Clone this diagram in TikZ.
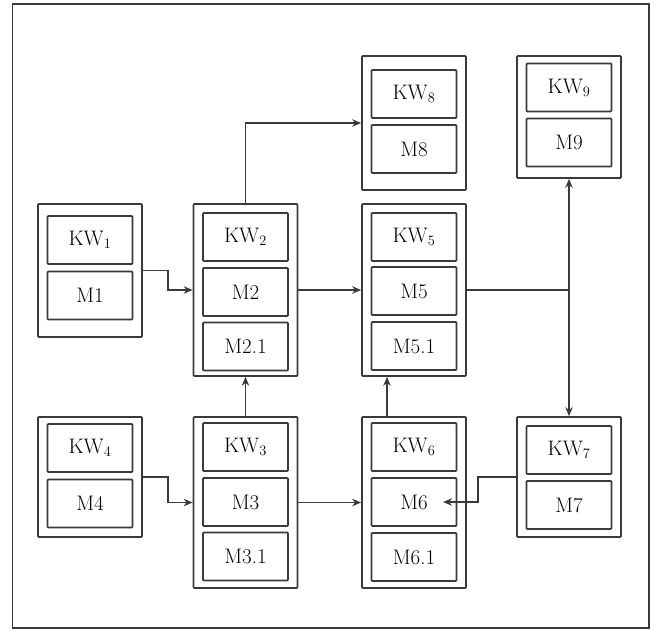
\documentclass[tikz,border=0pt]{standalone}
\usetikzlibrary{arrows.meta}
\definecolor{ink}{HTML}{3A3A3A}
\begin{document}
\begin{tikzpicture}[x=1pt,y=-1pt,
  frame/.style={draw=ink,line width=1.4pt},
  modbox/.style={draw=ink,line width=1.7pt,rounded corners=0.8pt,minimum width=104pt,inner sep=0pt},
  cell/.style={draw=ink,line width=1.7pt,rounded corners=0.8pt,minimum width=85pt,minimum height=48pt,inner sep=0pt,font=\fontsize{21}{24}\selectfont},
  conn/.style={draw=ink,line width=1.4pt,-{Stealth[length=9pt,width=7.5pt]}},
  wire/.style={draw=ink,line width=1.4pt}]
\useasboundingbox (0,0) rectangle (654,630);
\draw[frame] (12.5,4) rectangle (649,628);

% module boxes
\node[modbox,minimum height=133pt] (b1) at (90,270.5) {};
\node[modbox,minimum height=172pt] (b2) at (245.5,290) {};
\node[modbox,minimum height=172pt] (b5) at (414,290) {};
\node[modbox,minimum height=134pt] (b8) at (414,123) {};
\node[modbox,minimum height=122pt] (b9) at (569,117) {};
\node[modbox,minimum height=120pt] (b4) at (90,477) {};
\node[modbox,minimum height=171pt] (b3) at (245.5,502.5) {};
\node[modbox,minimum height=171pt] (b6) at (414,502.5) {};
\node[modbox,minimum height=120pt] (b7) at (569,477) {};

% cells
\node[cell] (kw1) at (90,240) {KW$_{1}$};
\node[cell] (m1) at (90,295.5) {M1};
\node[cell] (kw2) at (245.5,237) {KW$_{2}$};
\node[cell] (m2) at (245.5,292) {M2};
\node[cell] (m21) at (245.5,346.5) {M2.1};
\node[cell] (kw5) at (414,237) {KW$_{5}$};
\node[cell] (m5) at (414,291) {M5};
\node[cell] (m51) at (414,346) {M5.1};
\node[cell] (kw8) at (414,94) {KW$_{8}$};
\node[cell] (m8) at (414,149) {M8};
\node[cell] (kw9) at (569,87.5) {KW$_{9}$};
\node[cell] (m9) at (569,142.5) {M9};
\node[cell] (kw4) at (90,448) {KW$_{4}$};
\node[cell] (m4) at (90,503.5) {M4};
\node[cell] (kw3) at (245.5,447) {KW$_{3}$};
\node[cell] (m3) at (245.5,502) {M3};
\node[cell] (m31) at (245.5,556.5) {M3.1};
\node[cell] (kw6) at (414,447) {KW$_{6}$};
\node[cell] (m6) at (414,502) {M6};
\node[cell] (m61) at (414,557) {M6.1};
\node[cell] (kw7) at (569,450) {KW$_{7}$};
\node[cell] (m7) at (569,505) {M7};

\coordinate (m6tip) at (443,502);
\coordinate (junc) at (b5.east -| b9.south);

% connectors
\draw[conn] (b1.east) -- ++(25,0) |- (b2.west);
\draw[conn] (b4.east) -- ++(25,0) |- (b3.west);
\draw[conn] (b2.east) -- (b5.west);
\draw[conn] (b3.east) -- (b6.west);
\draw[conn] (b2.north) |- (b8.west);
\draw[conn] (b3.north) -- (b2.south);
\draw[conn] ([xshift=-27pt]b6.north) -- ([xshift=-27pt]b5.south);
\draw[wire] (b5.east) -- (junc);
\draw[conn,{Stealth[length=9pt,width=7.5pt]}-{Stealth[length=9pt,width=7.5pt]}] (b9.south) -- (b7.north);
\draw[conn] (b7.west) -- ++(-38,0) |- (m6tip);
\end{tikzpicture}
\end{document}
